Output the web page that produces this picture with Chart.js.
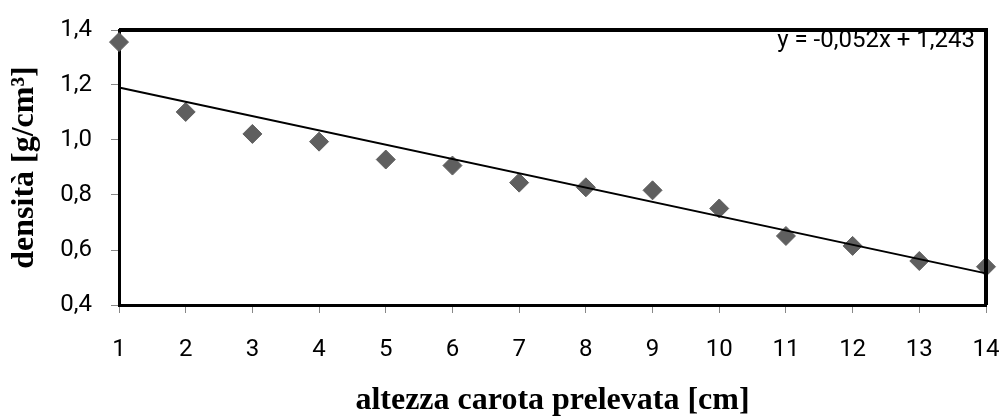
<!DOCTYPE html>
<html>
<head>
<meta charset="utf-8">
<script src="https://cdn.jsdelivr.net/npm/chart.js@4"></script>
<style>
  html, body { margin: 0; padding: 0; background: #fff; }
  #wrap { width: 1003px; height: 420px; }
</style>
</head>
<body>
<div id="wrap"><canvas id="densita"></canvas></div>
<script>
// altezza carota [cm] e densità [g/cm3]
var altezze = [1, 2, 3, 4, 5, 6, 7, 8, 9, 10, 11, 12, 13, 14];
var densita = [1.356, 1.102, 1.022, 0.994, 0.929, 0.907, 0.845, 0.828, 0.817, 0.751, 0.651, 0.615, 0.560, 0.539];

// linea di tendenza (estremi)
var trendX = [1, 14];
var trendY = [1.191, 0.515];
var trendLabel = 'y = -0,052x + 1,243';

var yTicks = [0.4, 0.6, 0.8, 1.0, 1.2, 1.4];
var yTickLabels = ['0,4', '0,6', '0,8', '1,0', '1,2', '1,4'];

var punti = altezze.map(function (x, i) { return { x: x, y: densita[i] }; });
var tendenza = trendX.map(function (x, i) { return { x: x, y: trendY[i] }; });

// etichetta equazione + cornice spessa sopra e a destra
var cornice = {
    id: 'cornice',
    afterDatasetsDraw: function (chart) {
        var a = chart.chartArea, ctx = chart.ctx;
        ctx.save();
        ctx.fillStyle = '#000';
        ctx.font = '24px Roboto';
        ctx.textAlign = 'right';
        ctx.textBaseline = 'alphabetic';
        ctx.fillText(trendLabel, a.right - 11, a.top + 17);

        ctx.strokeStyle = '#000';
        ctx.lineWidth = 4;
        ctx.beginPath();
        ctx.moveTo(a.left, a.top);
        ctx.lineTo(a.right, a.top);
        ctx.lineTo(a.right, a.bottom);
        ctx.stroke();
        ctx.restore();
    }
};

var ctx = document.getElementById('densita').getContext('2d');

var chart = new Chart(ctx, {
    type: 'scatter',
    data: {
        datasets: [{
            type: 'line',
            data: tendenza,
            borderColor: '#000',
            borderWidth: 2,
            pointRadius: 0,
            fill: false,
            order: 0
        }, {
            data: punti,
            backgroundColor: '#5f5f5f',
            borderColor: '#5f5f5f',
            pointStyle: 'rectRot',
            pointRadius: 9.5,
            pointHoverRadius: 9.5,
            order: 1
        }]
    },
    plugins: [cornice],
    options: {
        responsive: true,
        maintainAspectRatio: false,
        animation: false,
        clip: false,
        layout: {
            padding: { top: 30, right: 17, left: 0, bottom: 0 }
        },
        plugins: {
            legend: { display: false },
            tooltip: { enabled: false }
        },
        scales: {
            x: {
                type: 'linear',
                min: 1,
                max: 14,
                afterFit: function (scale) {
                    scale.height = 115;
                    scale.paddingLeft = 0;
                    scale.paddingRight = 0;
                },
                afterBuildTicks: function (scale) {
                    scale.ticks = altezze.map(function (v) { return { value: v }; });
                },
                border: { color: '#000', width: 3 },
                grid: {
                    drawOnChartArea: false,
                    drawTicks: true,
                    tickLength: 8,
                    color: '#888'
                },
                ticks: {
                    color: '#000',
                    padding: 23,
                    maxRotation: 0,
                    font: { family: 'Roboto', size: 24 }
                },
                title: {
                    display: true,
                    text: 'altezza carota prelevata [cm]',
                    color: '#000',
                    padding: { top: 0, bottom: 0 },
                    font: { family: 'Liberation Serif', size: 32, weight: 'bold' }
                }
            },
            y: {
                min: 0.4,
                max: 1.4,
                afterFit: function (scale) {
                    scale.width = 119;
                    scale.paddingTop = 0;
                    scale.paddingBottom = 0;
                },
                afterBuildTicks: function (scale) {
                    scale.ticks = yTicks.map(function (v) { return { value: v }; });
                },
                border: { color: '#000', width: 3 },
                grid: {
                    drawOnChartArea: false,
                    drawTicks: true,
                    tickLength: 8,
                    color: '#888'
                },
                ticks: {
                    color: '#000',
                    padding: 19,
                    font: { family: 'Roboto', size: 24 },
                    callback: function (value) {
                        var i = yTicks.indexOf(Math.round(value * 10) / 10);
                        return i >= 0 ? yTickLabels[i] : '';
                    }
                },
                title: {
                    display: true,
                    text: 'densità [g/cm³]',
                    color: '#000',
                    padding: { top: 6, bottom: 0 },
                    font: { family: 'Liberation Serif', size: 32, weight: 'bold' }
                }
            }
        }
    }
});
</script>
</body>
</html>
